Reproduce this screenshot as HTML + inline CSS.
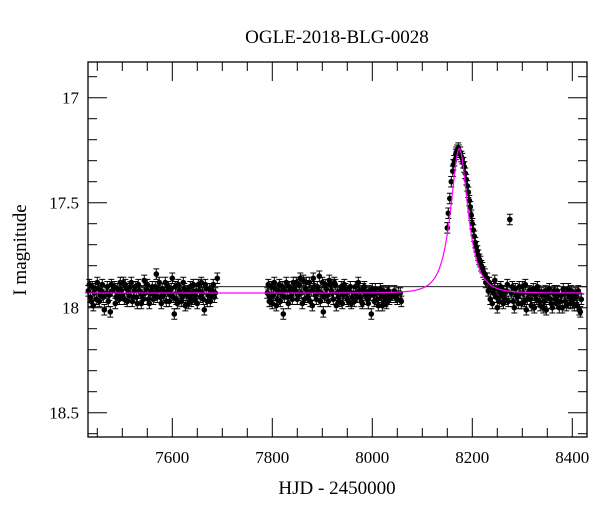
<!DOCTYPE html>
<html><head><meta charset="utf-8"><style>
body{margin:0;background:#fff}
svg text{font-family:"Liberation Serif",serif;fill:#000}
</style></head><body>
<svg id="c" width="600" height="512" xmlns="http://www.w3.org/2000/svg">
<text x="337" y="43" font-size="19" text-anchor="middle">OGLE-2018-BLG-0028</text>
<text x="337" y="494" font-size="19" text-anchor="middle">HJD - 2450000</text>
<text transform="translate(26,250) rotate(-90)" font-size="19" text-anchor="middle">I magnitude</text>
<g id="ticks"></g>
<g id="marks"></g>
<rect x="88" y="62" width="499" height="375" fill="none" stroke="#000" stroke-width="1.3"/>
</svg>
<script>
const xTicks=[7600,7800,8000,8200,8400];
const yTicks=[17,17.5,18,18.5];
const yTickLabels=["17","17.5","18","18.5"];
const season1=[[7432,17.92],[7436,17.95],[7440,17.90],[7444,17.93],[7448,17.96],[7452,17.91],[7456,17.94],[7460,17.89],[7464,18.01],[7468,17.93],[7472,17.97],[7476,18.02],[7480,17.92],[7484,17.90],[7488,17.95],[7492,17.93],[7496,17.88],[7500,17.94],[7504,17.96],[7508,17.91],[7512,17.93],[7516,17.90],[7520,17.97],[7524,17.92],[7528,17.95],[7532,17.89],[7536,17.93],[7540,17.94],[7544,17.87],[7548,17.91],[7552,17.96],[7556,17.93],[7560,17.90],[7564,17.94],[7568,17.84],[7572,17.92],[7576,17.95],[7580,17.91],[7584,17.93],[7588,17.97],[7592,17.90],[7596,17.94],[7600,17.86],[7604,18.03],[7608,17.96],[7612,17.89],[7616,17.93],[7620,17.95],[7624,17.91],[7628,17.94],[7632,17.98],[7636,17.90],[7640,17.93],[7644,17.96],[7648,17.92],[7652,17.89],[7656,17.95],[7660,17.93],[7664,18.01],[7668,17.91],[7672,17.94],[7676,17.97],[7680,17.92],[7684,17.95],[7690,17.86],[7442,17.99],[7502,17.88],[7538,17.98],[7586,17.88],[7626,17.99],[7658,17.88]];
const season1b=[[7434,17.89],[7438,17.97],[7446,17.91],[7450,17.88],[7454,17.97],[7458,17.92],[7462,17.95],[7470,17.90],[7474,17.94],[7478,17.89],[7486,17.98],[7490,17.91],[7494,17.96],[7498,17.92],[7506,17.89],[7510,17.97],[7514,17.94],[7518,17.88],[7522,17.95],[7526,17.90],[7530,17.98],[7534,17.92],[7542,17.96],[7546,17.93],[7550,17.89],[7554,17.98],[7558,17.92],[7562,17.96],[7566,17.90],[7570,17.95],[7574,17.88],[7578,17.98],[7582,17.94],[7590,17.92],[7594,17.97],[7598,17.91],[7602,17.95],[7606,17.90],[7610,17.98],[7614,17.92],[7618,17.97],[7622,17.88],[7630,17.92],[7634,17.95],[7638,17.97],[7642,17.89],[7646,17.94],[7650,17.98],[7654,17.92],[7662,17.96],[7666,17.89],[7670,17.97],[7674,17.91],[7678,17.95],[7682,17.89],[7686,17.93]];
const season2=[[7790,17.93],[7794,17.97],[7798,17.90],[7802,17.94],[7806,17.91],[7810,17.96],[7814,17.89],[7818,17.93],[7822,18.03],[7826,17.92],[7830,17.95],[7834,17.90],[7838,17.94],[7842,17.88],[7846,17.92],[7850,17.96],[7854,17.89],[7858,17.93],[7862,17.87],[7866,17.91],[7870,17.95],[7874,17.88],[7878,17.92],[7882,17.86],[7886,17.94],[7890,17.90],[7894,17.85],[7898,17.93],[7902,18.02],[7906,17.89],[7910,17.94],[7914,17.87],[7918,17.92],[7922,17.96],[7926,17.89],[7930,17.93],[7934,17.97],[7938,17.90],[7942,17.94],[7946,17.91],[7950,17.96],[7954,17.92],[7958,17.98],[7962,17.93],[7966,17.90],[7970,17.95],[7974,17.92],[7978,17.97],[7982,17.91],[7986,17.94],[7990,17.96],[7994,17.92],[7998,18.03],[8002,17.94],[8006,17.91],[8010,17.96],[8014,17.93],[8018,17.95],[8022,17.92],[8026,17.97],[8030,17.93],[8034,17.96],[8040,17.94],[8046,17.95],[8052,17.93],[8058,17.97],[7808,17.99],[7860,17.98],[7880,17.99],[7928,17.99],[7972,17.88],[8020,17.99]];
const season2b=[[7792,17.89],[7796,17.95],[7800,17.98],[7804,17.88],[7812,17.92],[7816,17.97],[7820,17.90],[7824,17.95],[7828,17.88],[7832,17.98],[7836,17.92],[7840,17.96],[7844,17.91],[7848,17.88],[7852,17.94],[7856,17.86],[7864,17.96],[7868,17.88],[7872,17.93],[7876,17.97],[7884,17.90],[7888,17.96],[7892,17.92],[7896,17.97],[7900,17.88],[7904,17.95],[7908,17.91],[7912,17.97],[7916,17.89],[7920,17.93],[7924,17.88],[7932,17.95],[7936,17.92],[7940,17.98],[7944,17.89],[7948,17.93],[7952,17.97],[7956,17.90],[7960,17.95],[7964,17.97],[7968,17.93],[7976,17.95],[7980,17.98],[7984,17.90],[7988,17.93],[7992,17.98],[7996,17.94],[8000,17.91],[8004,17.97],[8008,17.93],[8012,17.99],[8016,17.91],[8024,17.95],[8028,17.98],[8032,17.92],[8036,17.95],[8044,17.92],[8050,17.96],[8056,17.93]];
const season3=[[8150,17.62],[8152,17.55],[8155,17.48],[8158,17.40],[8161,17.35],[8164,17.30],[8167,17.27],[8170,17.25],[8173,17.25],[8176,17.26],[8180,17.29],[8184,17.33],[8188,17.39],[8192,17.45],[8196,17.52],[8200,17.60],[8204,17.66],[8208,17.71],[8212,17.75],[8216,17.78],[8220,17.81],[8225,17.84],[8230,17.86],[8234,17.88],[8238,17.90],[8242,17.93],[8245,17.87],[8248,17.95],[8251,17.91],[8254,17.97],[8257,17.90],[8260,17.94],[8263,17.92],[8266,17.96],[8270,17.89],[8275,17.58],[8278,17.93],[8282,17.97],[8286,17.91],[8290,17.95],[8294,17.90],[8298,17.98],[8302,17.93],[8306,17.89],[8310,17.96],[8314,17.92],[8318,17.99],[8322,17.91],[8326,17.94],[8330,17.90],[8334,17.97],[8338,17.93],[8342,18.00],[8346,17.92],[8350,17.95],[8354,17.91],[8358,17.98],[8362,17.93],[8366,17.96],[8370,17.92],[8374,18.00],[8378,17.94],[8382,17.91],[8386,17.97],[8390,17.93],[8394,17.95],[8398,17.92],[8402,17.96],[8406,17.93],[8410,17.99],[8414,18.01],[8418,17.96]];
const season3b=[[8162,17.32],[8168,17.26],[8172,17.24],[8178,17.28],[8182,17.31],[8186,17.36],[8190,17.42],[8194,17.49],[8198,17.56],[8202,17.63],[8206,17.69],[8210,17.73],[8214,17.77],[8218,17.80],[8222,17.83],[8227,17.88],[8232,17.92],[8236,17.96],[8240,17.98],[8244,17.91],[8250,18.00],[8256,17.93],[8262,17.98],[8268,17.92],[8272,17.97],[8280,17.90],[8284,18.00],[8288,17.94],[8292,17.98],[8296,17.93],[8300,17.90],[8304,17.97],[8308,18.01],[8312,17.93],[8316,17.96],[8320,17.93],[8324,18.00],[8328,17.96],[8332,17.92],[8336,17.99],[8340,17.94],[8344,17.97],[8348,18.01],[8352,17.93],[8356,17.96],[8360,18.00],[8364,17.92],[8368,17.98],[8372,17.94],[8376,17.97],[8380,18.00],[8384,17.93],[8388,17.99],[8392,17.91],[8396,17.98],[8400,17.94],[8404,17.99],[8408,17.95],[8412,17.92],[8416,18.02]];
const modelBase=17.93, modelT0=8174, modelU0=0.6, modelTE=27;
const refLine=17.9;

const X0=88,X1=587,Y0=62,Y1=437;
const xs=t=>172.3+(t-7600)*0.5;
const ys=m=>97.7+(m-17)*210;
const NS="http://www.w3.org/2000/svg";
const tk=document.getElementById('ticks'),mk=document.getElementById('marks');
function mkEl(tag,attrs,parent){const e=document.createElementNS(NS,tag);for(const k in attrs)e.setAttribute(k,attrs[k]);parent.appendChild(e);return e;}
for(let t=7450;t<=8400;t+=50){const x=xs(t);const major=t%200===0;const L=major?19:9;
 const a=mkEl('line',{x1:x,y1:Y1,x2:x,y2:Y1-L,stroke:'#000'},tk);
 
 
 const b=mkEl('line',{x1:x,y1:Y0,x2:x,y2:Y0+L,stroke:'#000'},tk);
 
 }
xTicks.forEach(t=>{const e=mkEl('text',{x:xs(t),y:463,'font-size':17,'text-anchor':'middle'},tk);e.textContent=t;
 
 });
for(let i=169;i<=186;i++){const m=i/10;const y=ys(m);const major=i%5===0;const L=major?19:9;
 const a=mkEl('line',{x1:X0,y1:y,x2:X0+L,y2:y,stroke:'#000'},tk);
 
 
 const b=mkEl('line',{x1:X1,y1:y,x2:X1-L,y2:y,stroke:'#000'},tk);
 
 }
yTicks.forEach((m,i)=>{const e=mkEl('text',{x:79,y:ys(m)+6,'font-size':17,'text-anchor':'end'},tk);e.textContent=yTickLabels[i];
 
 });
const rl=mkEl('line',{x1:X0,y1:ys(refLine),x2:X1,y2:ys(refLine),stroke:'#000','stroke-width':0.8},mk);


function drawPts(arr,name){arr.forEach(([t,m])=>{const x=xs(t),y=ys(m),e=0.025*210;
 const g=mkEl('g',{},mk);
 
 
 mkEl('path',{d:`M${x},${y-e}V${y+e}M${x-3},${y-e}H${x+3}M${x-3},${y+e}H${x+3}`,stroke:'#000','stroke-width':1},g);
 mkEl('circle',{cx:x,cy:y,r:2.8,fill:'#000'},g);});}
drawPts(season1,'data-point-season1');
drawPts(season1b,'data-point-season1');
drawPts(season2,'data-point-season2');
drawPts(season2b,'data-point-season2');
drawPts(season3,'data-point-season3');
drawPts(season3b,'data-point-season3');
let d='';for(let t=7425;t<=8420;t+=1){const u=Math.sqrt(modelU0*modelU0+((t-modelT0)/modelTE)**2);const A=(u*u+2)/(u*Math.sqrt(u*u+4));const m=modelBase-2.5*Math.log10(A);d+=(d?'L':'M')+xs(t).toFixed(1)+','+ys(m).toFixed(1);}
const mp=mkEl('path',{d:d,fill:'none',stroke:'#ff00ff','stroke-width':1.2},mk);


</script>
</body></html>
